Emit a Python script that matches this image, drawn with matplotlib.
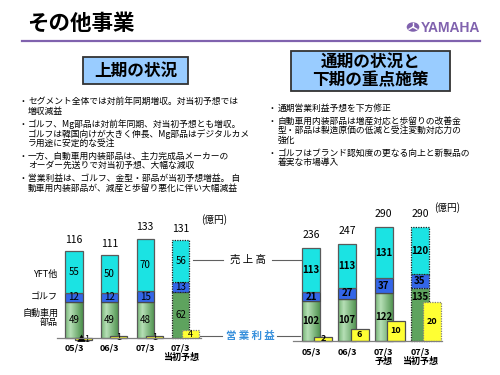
import matplotlib
matplotlib.use('Agg')
import matplotlib.pyplot as plt
import numpy as np
from matplotlib.patches import Rectangle, Circle
from matplotlib.lines import Line2D
from matplotlib.colors import LinearSegmentedColormap

plt.rcParams['font.family'] = ['Noto Sans CJK JP', 'DejaVu Sans']

# ---------------- data ----------------
seg_names = ['YFT他', 'ゴルフ', '自動車用\n部品']

h1_cats = ['05/3', '06/3', '07/3', '07/3\n当初予想']
h1_auto = [49, 49, 48, 62]
h1_golf = [12, 12, 15, 13]
h1_yft = [55, 50, 70, 56]
h1_total = [116, 111, 133, 131]
h1_profit = [-1, 1, 1, 4]

fy_cats = ['05/3', '06/3', '07/3\n予想', '07/3\n当初予想']
fy_auto = [102, 107, 122, 135]
fy_golf = [21, 27, 37, 35]
fy_yft = [113, 113, 131, 120]
fy_total = [236, 247, 290, 290]
fy_profit = [2, 6, 10, 20]

left_bullets = [
    ['セグメント全体では対前年同期増収。対当初予想では', '増収減益'],
    ['ゴルフ、Mg部品は対前年同期、対当初予想とも増収。',
     'ゴルフは韓国向けが大きく伸長、Mg部品はデジタルカメ', 'ラ用途に安定的な受注'],
    ['一方、自動車用内装部品は、主力完成品メーカーの', 'オーダー先送りで対当初予想、大幅な減収'],
    ['営業利益は、ゴルフ、金型・部品が当初予想増益。 自', '動車用内装部品が、減産と歩留り悪化に伴い大幅減益'],
]
right_bullets = [
    ['通期営業利益予想を下方修正'],
    ['自動車用内装部品は増産対応と歩留りの改善金', '型・部品は製造原価の低減と受注変動対応力の', '強化'],
    ['ゴルフはブランド認知度の更なる向上と新製品の', '着実な市場導入'],
]

# ---------------- figure ----------------
W, H = 500, 375
fig = plt.figure(figsize=(5, 3.75), dpi=100)
fig.patch.set_facecolor('white')


def fx(x):
    return x / W


def fy(y):
    return 1 - y / H


def ftext(x, y, s, **kw):
    fig.text(fx(x), fy(y), s, **kw)


def fline(x0, x1, y0, y1, **kw):
    fig.add_artist(Line2D([fx(x0), fx(x1)], [fy(y0), fy(y1)], transform=fig.transFigure, **kw))


PURPLE = '#8062AE'
CYAN = '#1BE3E3'
BLUE = '#3366E8'
YELLOW = '#FFFF33'
GREEN_SOLID = '#5EA35E'
green_cmap = LinearSegmentedColormap.from_list(
    'g', [(0, '#74B474'), (0.3, '#B6DFB6'), (1, '#4B904B')])

# title & header
ftext(27, 23, 'その他事業', fontsize=15.5, fontweight='bold', va='center', ha='left')
fline(22, 480, 40.5, 40.5, color=PURPLE, lw=1.6)
fig.add_artist(Circle((fx(413), fy(27)), 6.3 / W, transform=fig.transFigure,
                      facecolor=PURPLE, edgecolor='none'))
for ang in (90, 210, 330):
    a = np.deg2rad(ang)
    fline(413, 413 + 4.5 * np.cos(a), 27, 27 - 4.5 * np.sin(a), color='white', lw=1.0)
ftext(421, 27.5, 'YAMAHA', fontsize=10, fontweight='bold', color=PURPLE,
      va='center', ha='left', family='Liberation Sans')

# heading boxes
def box(x0, y0, x1, y1):
    fig.add_artist(Rectangle((fx(x0), fy(y1)), (x1 - x0) / W, (y1 - y0) / H,
                             transform=fig.transFigure, facecolor='#99CCFF',
                             edgecolor='#333333', lw=1.3))

box(83, 57, 188, 84)
ftext(135.5, 70.5, '上期の状況', fontsize=12, fontweight='bold', ha='center', va='center')
box(291, 51, 450, 91)
ftext(370.5, 62, '通期の状況と', fontsize=12, fontweight='bold', ha='center', va='center')
ftext(370.5, 80.5, '下期の重点施策', fontsize=12, fontweight='bold', ha='center', va='center')

# bullets
def bullets(groups, xb, xt, y0, line_gap, para_gap):
    y = y0
    for g in groups:
        for i, line in enumerate(g):
            if i == 0:
                ftext(xb, y, '・', fontsize=6.3, ha='center', va='center')
            ftext(xt, y, line, fontsize=6.3, ha='left', va='center')
            y += line_gap
        y += para_gap - line_gap

bullets(left_bullets, 23, 28, 101.7, 9.5, 13.0)
bullets(right_bullets, 271.7, 278, 108.3, 9.6, 12.8)


# ---------------- charts ----------------
def chart(px_rect, center0, pitch, base_y, s_scale, p_scale, width, off,
          auto, golf, yft, total, profit, cats, bold, tick_off, total_off):
    x0, y0, x1, y1 = px_rect
    ax = fig.add_axes([fx(x0), fy(y1), (x1 - x0) / W, (y1 - y0) / H])
    xlim = ((x0 - center0) / pitch, (x1 - center0) / pitch)
    ylim_s = (-(y1 - base_y) / s_scale, (base_y - y0) / s_scale)
    ylim_p = (-(y1 - base_y) / p_scale, (base_y - y0) / p_scale)
    x = np.arange(len(auto))
    auto = np.array(auto); golf = np.array(golf); yft = np.array(yft)
    fw = 'bold' if bold else 'normal'
    last = len(auto) - 1

    # green gradient fill
    grad = np.linspace(0, 1, 64)[None, :]
    for i in range(len(auto)):
        if i == last:
            continue
        ax.imshow(grad, cmap=green_cmap, extent=(x[i] - width / 2, x[i] + width / 2, 0, auto[i]),
                  aspect='auto', zorder=1)
    g = ax.bar(x, auto, width, color='none', edgecolor='#5A5A5A', lw=0.9, zorder=2)
    g[last].set_facecolor(GREEN_SOLID)
    b = ax.bar(x, golf, width, bottom=auto, color=BLUE, edgecolor='#4A4A4A', lw=0.9, zorder=2)
    c = ax.bar(x, yft, width, bottom=auto + golf, color=CYAN, edgecolor='#5A5A5A', lw=0.9, zorder=2)
    for bars in (g, b, c):
        bars[last].set_linestyle((0, (1, 1)))
        bars[last].set_edgecolor('#202020')

    for i in range(len(auto)):
        gy = auto[i] / 2
        if bold and i == last:
            gy = auto[i] - 9 / s_scale
        ax.text(x[i], gy, str(auto[i]), ha='center', va='center', fontsize=7, fontweight=fw, zorder=5)
        ax.text(x[i], auto[i] + golf[i] / 2, str(golf[i]), ha='center', va='center', fontsize=7,
                fontweight=fw, zorder=5)
        ax.text(x[i], auto[i] + golf[i] + yft[i] / 2, str(yft[i]), ha='center', va='center',
                fontsize=7, fontweight=fw, zorder=5)
        ax.annotate(str(total[i]), (x[i], total[i]), xytext=(0, total_off), textcoords='offset points',
                    ha='center', va='center', fontsize=7.5)
        ax.annotate(cats[i], (x[i], 0), xytext=(0, -tick_off), textcoords='offset points',
                    ha='center', va='top', fontsize=6.5, fontweight='bold', linespacing=1.05,
                    annotation_clip=False)
    ax.set_xlim(*xlim)
    ax.set_ylim(*ylim_s)
    ax.axis('off')

    ax2 = ax.twinx()
    p = ax2.bar(x + off, profit, width, color=YELLOW, edgecolor='#505050', lw=0.9, zorder=3)
    p[last].set_linestyle((0, (1, 1)))
    p[last].set_edgecolor('#808080')
    for i, v in enumerate(profit):
        lab = ('▲' + str(-v)) if v < 0 else str(v)
        ax2.text(x[i] + off, v / 2, lab, ha='center', va='center', fontsize=6.5,
                 fontweight=fw, zorder=6)
    ax2.set_xlim(*xlim)
    ax2.set_ylim(*ylim_p)
    ax2.axis('off')
    return ax


chart((50, 215, 205, 352), 74, 35.6, 338.3, 0.75, 2.0, 0.48, 0.26,
      h1_auto, h1_golf, h1_yft, h1_total, h1_profit, h1_cats, False, 3.6, 8.2)
chart((285, 205, 452, 352), 311, 36.3, 340.7, 0.392, 1.96, 0.5, 0.34,
      fy_auto, fy_golf, fy_yft, fy_total, fy_profit, fy_cats, True, 4.8, 9.6)

# baselines
fline(57, 201, 338.3, 338.3, color='#808080', lw=0.9)
fline(293, 442, 340.7, 340.7, color='#808080', lw=0.9)

# legend names (left)
ftext(58, 274, seg_names[0], fontsize=6.5, ha='right', va='center')
ftext(58, 297, seg_names[1], fontsize=6.5, ha='right', va='center')
ftext(58, 318, seg_names[2], fontsize=6.5, ha='right', va='center', multialignment='right',
      linespacing=1.1)

# connectors
ftext(247.5, 259.5, '売 上 高', fontsize=7.5, ha='center', va='center')
fline(193, 223, 259.5, 259.5, color='#606060', lw=0.8)
fline(272, 301, 259.5, 259.5, color='#606060', lw=0.8)
ftext(250, 336, '営 業 利 益', fontsize=7.5, ha='center', va='center', color='#3890DC',
      fontweight='bold')
fline(200, 222, 336, 336, color='#606060', lw=0.8)
fline(277, 300, 336, 336, color='#606060', lw=0.8)

# units
ftext(214, 220, '(億円)', fontsize=7, ha='center', va='center')
ftext(447, 208, '(億円)', fontsize=7, ha='center', va='center')

fig.savefig('out.png', dpi=100)
